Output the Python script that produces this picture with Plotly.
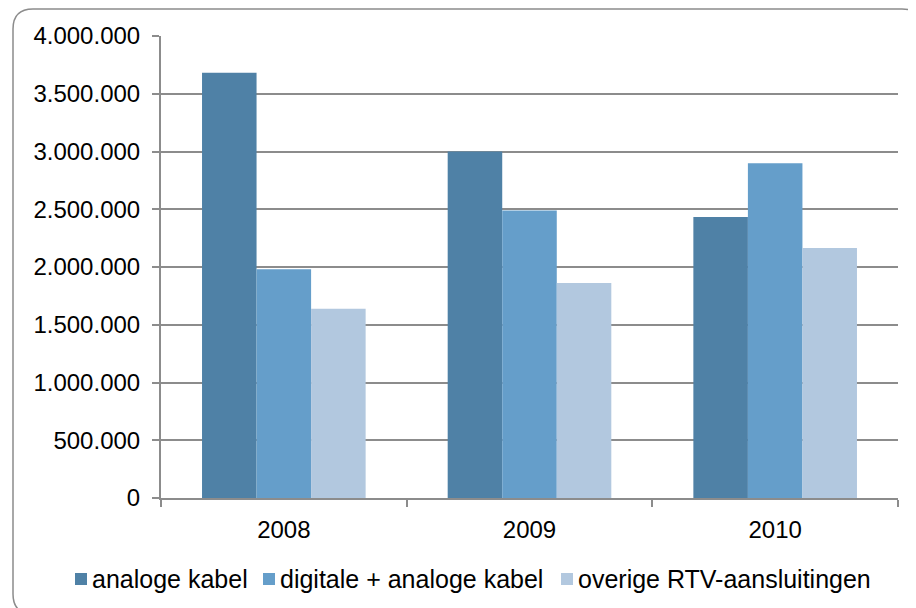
import plotly.graph_objects as go

years = ["2008", "2009", "2010"]
series_names = ["analoge kabel", "digitale + analoge kabel", "overige RTV-aansluitingen"]
analoge = [3681000, 3000000, 2433000]
digitale = [1980000, 2490000, 2899000]
overige = [1638000, 1862000, 2164000]
colors = ["#4F81A6", "#659ECA", "#B2C8DF"]

OFF = 8  # page body margin of the browser
W, H = 916 - OFF, 608 - OFF
L, R, T, B = 161 - OFF, 898 - OFF, 36 - OFF, 498 - OFF  # plot area pixel box (figure coords)


def px(x):
    # x given in reference-image pixels
    return (x - OFF - L) / (R - L)


def py(y):
    return (B - (y - OFF)) / (B - T)


fig = go.Figure()
for name, vals, col in zip(series_names, [analoge, digitale, overige], colors):
    fig.add_trace(go.Bar(x=years, y=vals, name=name, marker=dict(color=col, line=dict(width=0))))

font = "Arial, Liberation Sans, sans-serif"
grid = "#8C8C8C"

fig.update_layout(
    width=W, height=H,
    margin=dict(l=L, r=W - R, t=T, b=H - B),
    paper_bgcolor="white", plot_bgcolor="white",
    barmode="group", bargap=0.334, bargroupgap=0,
    showlegend=False,
    separators=",.",
    font=dict(family=font, size=24, color="#000000"),
)
fig.update_yaxes(
    range=[0, 4000000], dtick=500000, tickformat=",d",
    showgrid=True, gridcolor=grid, gridwidth=2,
    showline=True, linecolor=grid, linewidth=2,
    ticks="outside", ticklen=7, tickwidth=2, tickcolor=grid,
    ticklabelstandoff=7, zeroline=False,
    tickfont=dict(family=font, size=24, color="#000"),
)
fig.update_xaxes(
    showline=True, linecolor=grid, linewidth=2,
    ticks="outside", ticklen=7, tickwidth=2, tickcolor=grid,
    tickson="boundaries", showgrid=False,
    ticklabelstandoff=9,
    tickfont=dict(family=font, size=24, color="#000"),
)

# outer rounded border (reference-image pixel coords)
x0, y0, x1, y1, r = 13, 9, 922, 614, 20
path = (f"M{px(x0)},{py(y0 + r)} Q{px(x0)},{py(y0)} {px(x0 + r)},{py(y0)} "
        f"L{px(x1 - r)},{py(y0)} Q{px(x1)},{py(y0)} {px(x1)},{py(y0 + r)} "
        f"L{px(x1)},{py(y1 - r)} Q{px(x1)},{py(y1)} {px(x1 - r)},{py(y1)} "
        f"L{px(x0 + r)},{py(y1)} Q{px(x0)},{py(y1)} {px(x0)},{py(y1 - r)} Z")
fig.add_shape(type="path", path=path, xref="paper", yref="paper",
              line=dict(color="#8C8C8C", width=1.5), fillcolor="rgba(0,0,0,0)", layer="above")

# legend (custom, Excel style)
leg_y = 579
marker_x = [75, 263, 561]
for name, col, mx in zip(series_names, colors, marker_x):
    fig.add_shape(type="rect", xref="paper", yref="paper",
                  x0=px(mx), x1=px(mx + 12), y0=py(leg_y - 6), y1=py(leg_y + 6),
                  fillcolor=col, line=dict(width=0))
    fig.add_annotation(x=px(mx + 15), y=py(leg_y), xref="paper", yref="paper",
                       text=name, showarrow=False, xanchor="left", yanchor="middle",
                       font=dict(family=font, size=25, color="#000"))

fig.write_html("out.html")
